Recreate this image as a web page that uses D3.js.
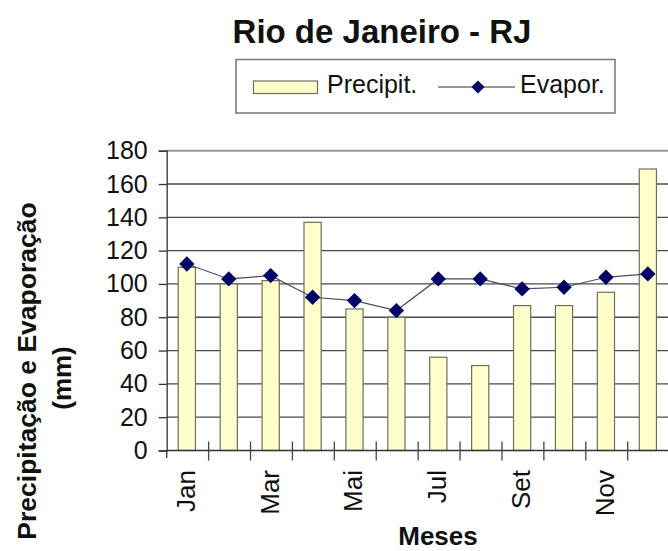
<!DOCTYPE html>
<html>
<head>
<meta charset="utf-8">
<script src="https://cdn.jsdelivr.net/npm/d3@7"></script>
<style>
  html, body { margin: 0; padding: 0; background: #fff; }
  svg { display: block; font-family: "Liberation Sans", Arial, sans-serif; }
</style>
</head>
<body>
<svg id="chart" width="668" height="551"></svg>
<script>
// Monthly precipitation and evaporation, Rio de Janeiro (mm)
const months = ["Jan", "Fev", "Mar", "Abr", "Mai", "Jun", "Jul", "Ago", "Set", "Out", "Nov", "Dez"];
const precip = [110, 100, 102, 137, 85, 80, 56, 51, 87, 87, 95, 169];
const evap = [112, 103, 105, 92, 90, 84, 103, 103, 97, 98, 104, 106];
const yTicks = [0, 20, 40, 60, 80, 100, 120, 140, 160, 180];
const shownMonths = ["Jan", "Mar", "Mai", "Jul", "Set", "Nov"];

const svg = d3.select("#chart");
const plotLeft = 166.7, plotRight = 669.6, plotTop = 150.7, plotBottom = 450.5;

const x = d3.scaleBand().domain(months).range([plotLeft, plotRight]).padding(0);
const y = d3.scaleLinear().domain([0, 180]).range([plotBottom, plotTop]);

// Title
svg.append("text")
  .attr("x", 382).attr("y", 43)
  .attr("text-anchor", "middle")
  .attr("font-size", 33).attr("font-weight", "bold")
  .attr("fill", "#111")
  .text("Rio de Janeiro - RJ");

// Legend
const lg = svg.append("g");
lg.append("rect").attr("x", 236).attr("y", 59.5).attr("width", 379).attr("height", 53.5)
  .attr("fill", "#fff").attr("stroke", "#777").attr("stroke-width", 1.5);
lg.append("rect").attr("x", 253.5).attr("y", 81).attr("width", 64).attr("height", 12.5)
  .attr("fill", "#ffffcc").attr("stroke", "#6e6e5e").attr("stroke-width", 1.2);
lg.append("text").attr("x", 327).attr("y", 93).attr("font-size", 25).attr("fill", "#111").text("Precipit.");
lg.append("line").attr("x1", 438).attr("x2", 515).attr("y1", 87).attr("y2", 87)
  .attr("stroke", "#333").attr("stroke-width", 1.2);
lg.append("path").attr("d", d3.symbol(d3.symbolDiamond2, 110)())
  .attr("transform", "translate(478,87)").attr("fill", "#000066");
lg.append("text").attr("x", 520).attr("y", 93).attr("font-size", 25).attr("fill", "#111").text("Evapor.");

// Horizontal gridlines
svg.append("g").selectAll("line").data(yTicks.filter(d => d > 0)).join("line")
  .attr("x1", plotLeft).attr("x2", 668)
  .attr("y1", d => y(d)).attr("y2", d => y(d))
  .attr("stroke", d => d === 180 ? "#9a9a9a" : "#4a4a4a")
  .attr("stroke-width", d => d === 180 ? 2 : 1.3);

// Y axis with outer ticks
const yAxis = svg.append("g")
  .attr("transform", `translate(${plotLeft},0)`)
  .call(d3.axisLeft(y).tickValues(yTicks).tickSize(8).tickPadding(11));
yAxis.select(".domain").attr("stroke", "#333").attr("stroke-width", 1.3);
yAxis.selectAll(".tick line").attr("stroke", "#333").attr("stroke-width", 1.3);
yAxis.selectAll(".tick text")
  .attr("font-size", 25).attr("fill", "#111")
  .attr("font-family", "'Liberation Sans', Arial, sans-serif");

// Bars
const barW = x.bandwidth() * 0.41;
svg.append("g").selectAll("rect").data(precip).join("rect")
  .attr("x", (d, i) => x(months[i]) + x.bandwidth() / 2 - barW / 2 - 0.8)
  .attr("y", d => y(d))
  .attr("width", barW)
  .attr("height", d => plotBottom - y(d))
  .attr("fill", "#ffffcc")
  .attr("stroke", "#6e6e5e")
  .attr("stroke-width", 1.2);

// X axis line and crossing ticks at category boundaries
svg.append("line").attr("x1", plotLeft).attr("x2", 668).attr("y1", plotBottom).attr("y2", plotBottom)
  .attr("stroke", "#333").attr("stroke-width", 1.4);
svg.append("line").attr("x1", plotLeft).attr("x2", plotLeft).attr("y1", plotBottom).attr("y2", 458)
  .attr("stroke", "#333").attr("stroke-width", 1.3);
svg.append("g").selectAll("line").data(months.slice(1).concat(["end"])).join("line")
  .attr("x1", (d, i) => plotLeft + (i + 1) * x.step())
  .attr("x2", (d, i) => plotLeft + (i + 1) * x.step())
  .attr("y1", plotBottom - 9).attr("y2", plotBottom + 10)
  .attr("stroke", "#444").attr("stroke-width", 1.3);

// Evaporation line and diamond markers
const cx = m => x(m) + x.bandwidth() / 2 - 0.8;
svg.append("path").datum(evap)
  .attr("d", d3.line().x((d, i) => cx(months[i])).y(d => y(d)))
  .attr("fill", "none").attr("stroke", "#4a4a66").attr("stroke-width", 1.2);
svg.append("g").selectAll("path").data(evap).join("path")
  .attr("d", d3.symbol(d3.symbolDiamond2, 150)())
  .attr("transform", (d, i) => `translate(${cx(months[i])},${y(d)})`)
  .attr("fill", "#000066");

// Month labels (every other month), rotated
svg.append("g").selectAll("text").data(shownMonths).join("text")
  .attr("transform", m => `translate(${cx(m) + 8},470) rotate(-90)`)
  .attr("text-anchor", "end")
  .attr("font-size", 26).attr("fill", "#111")
  .text(m => m);

// Axis titles
svg.append("text")
  .attr("x", 438).attr("y", 545)
  .attr("text-anchor", "middle")
  .attr("font-size", 26).attr("font-weight", "bold").attr("fill", "#111")
  .text("Meses");
svg.append("text")
  .attr("transform", "translate(36,371) rotate(-90)")
  .attr("text-anchor", "middle")
  .attr("font-size", 26.5).attr("font-weight", "bold").attr("fill", "#111")
  .text("Precipitação e Evaporação");
svg.append("text")
  .attr("transform", "translate(71,378) rotate(-90)")
  .attr("text-anchor", "middle")
  .attr("font-size", 26).attr("font-weight", "bold").attr("fill", "#111")
  .text("(mm)");
</script>
</body>
</html>
